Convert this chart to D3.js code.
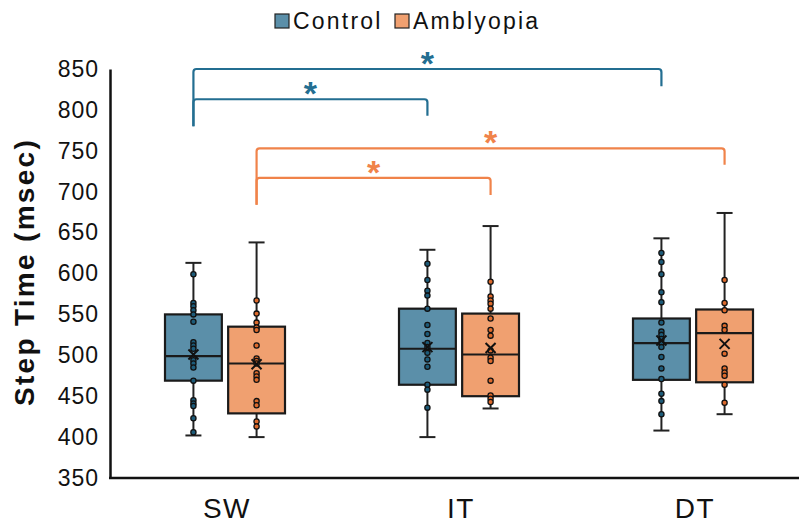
<!DOCTYPE html>
<html>
<head>
<meta charset="utf-8">
<script src="https://cdn.jsdelivr.net/npm/d3@7"></script>
<style>
  body { margin: 0; background: #fff; }
  svg { display: block; font-family: "Liberation Sans", Arial, sans-serif; }
</style>
</head>
<body>
<div id="chart"></div>
<script>
const categories = ["SW", "IT", "DT"];
const seriesNames = ["Control", "Amblyopia"];
const yTicks = [350, 400, 450, 500, 550, 600, 650, 700, 750, 800, 850];

// box stats: [min, q1, median, q3, max, mean]
const controlStats = [
  [402, 469, 499, 550, 613, 501],
  [400, 464, 508, 557, 629, 510],
  [408, 470, 515, 545, 643, 518]
];
const amblyopiaStats = [
  [400, 429, 490, 535, 638, 489],
  [435, 450, 501, 551, 658, 509],
  [428, 467, 527, 556, 674, 514]
];

// individual points
const controlPoints = [
  [599, 564, 560, 555, 550, 541, 516, 512, 508, 494, 490, 485, 469, 445, 441, 438, 423, 406],
  [612, 592, 579, 573, 557, 537, 526, 515, 510, 503, 495, 486, 464, 458, 436],
  [625, 614, 599, 577, 565, 540, 529, 525, 520, 515, 510, 498, 484, 471, 453, 444, 428]
];
const amblyopiaPoints = [
  [567, 551, 540, 534, 531, 512, 496, 493, 490, 478, 474, 470, 444, 439, 419, 413],
  [590, 572, 567, 563, 557, 545, 531, 524, 506, 497, 493, 469, 451, 447, 443],
  [592, 564, 555, 536, 531, 502, 484, 479, 475, 464, 442]
];

// significance brackets: series, from, to, top value, left end, right end
const brackets = [
  { series: "Control", from: "SW", to: "DT", top: 850, left: 780, right: 829 },
  { series: "Control", from: "SW", to: "IT", top: 813, left: 780, right: 793 },
  { series: "Amblyopia", from: "SW", to: "DT", top: 753, left: 684, right: 733 },
  { series: "Amblyopia", from: "SW", to: "IT", top: 717, left: 684, right: 696 }
];

const width = 799, height = 525;
const boxFill = { Control: "#5b8fa9", Amblyopia: "#f0a070" };
const pointFill = { Control: "#1d5b79", Amblyopia: "#dd6a2c" };
const lineColor = { Control: "#236e91", Amblyopia: "#f0834a" };

const svg = d3.select("#chart").append("svg")
  .attr("width", width)
  .attr("height", height);

const x = d3.scaleBand().domain(categories).range([108, 810]);
const sub = d3.scaleBand().domain(seriesNames).range([-60, 60]).paddingInner(0.1);
const y = d3.scaleLinear().domain([350, 850]).range([478, 69]);

const cx = (cat, s) => x(cat) + x.bandwidth() / 2 + sub(s) + sub.bandwidth() / 2;

// axes
const yAxis = svg.append("g")
  .attr("transform", "translate(110,0)")
  .call(d3.axisLeft(y).tickValues(yTicks).tickSize(0).tickPadding(11));
yAxis.select(".domain").attr("stroke", "#111").attr("stroke-width", 2.5);
yAxis.selectAll("text")
  .attr("font-size", 23)
  .attr("letter-spacing", 1)
  .attr("fill", "#111")
  .attr("font-family", "Liberation Sans, Arial, sans-serif");

svg.append("line")
  .attr("x1", 109).attr("x2", width)
  .attr("y1", y(350)).attr("y2", y(350))
  .attr("stroke", "#111").attr("stroke-width", 2.5);

svg.append("g").selectAll("text")
  .data(categories)
  .join("text")
  .attr("x", d => x(d) + x.bandwidth() / 2 + 2)
  .attr("y", 518)
  .attr("text-anchor", "middle")
  .attr("font-size", 28)
  .attr("letter-spacing", 1.5)
  .attr("fill", "#111")
  .text(d => d);

svg.append("text")
  .attr("transform", `translate(34,${272}) rotate(-90)`)
  .attr("text-anchor", "middle")
  .attr("font-size", 28)
  .attr("font-weight", "bold")
  .attr("letter-spacing", 2.3)
  .attr("fill", "#111")
  .text("Step Time (msec)");

// boxes
const groups = [];
categories.forEach((cat, i) => {
  groups.push({ cat, s: "Control", st: controlStats[i], pts: controlPoints[i] });
  groups.push({ cat, s: "Amblyopia", st: amblyopiaStats[i], pts: amblyopiaPoints[i] });
});

const bw = sub.bandwidth();
const g = svg.append("g").selectAll("g").data(groups).join("g");

g.append("line")
  .attr("x1", d => cx(d.cat, d.s)).attr("x2", d => cx(d.cat, d.s))
  .attr("y1", d => y(d.st[0])).attr("y2", d => y(d.st[4]))
  .attr("stroke", "#222").attr("stroke-width", 2);
g.selectAll(".cap").data(d => [d, d].map((e, k) => ({ ...e, v: e.st[k * 4] })))
  .join("line")
  .attr("x1", d => cx(d.cat, d.s) - 8).attr("x2", d => cx(d.cat, d.s) + 8)
  .attr("y1", d => y(d.v)).attr("y2", d => y(d.v))
  .attr("stroke", "#222").attr("stroke-width", 2);

g.append("rect")
  .attr("x", d => cx(d.cat, d.s) - bw / 2)
  .attr("width", bw)
  .attr("y", d => y(d.st[3]))
  .attr("height", d => y(d.st[1]) - y(d.st[3]))
  .attr("fill", d => boxFill[d.s])
  .attr("stroke", "#1a1a1a").attr("stroke-width", 2.2);

g.append("line")
  .attr("x1", d => cx(d.cat, d.s) - bw / 2).attr("x2", d => cx(d.cat, d.s) + bw / 2)
  .attr("y1", d => y(d.st[2])).attr("y2", d => y(d.st[2]))
  .attr("stroke", "#1a1a1a").attr("stroke-width", 2.2);

g.selectAll("circle").data(d => d.pts.map(v => ({ v, cat: d.cat, s: d.s })))
  .join("circle")
  .attr("cx", d => cx(d.cat, d.s))
  .attr("cy", d => y(d.v))
  .attr("r", 2.6)
  .attr("fill", d => pointFill[d.s])
  .attr("stroke", "#111").attr("stroke-width", 1.3);

// mean markers
g.append("path")
  .attr("transform", d => `translate(${cx(d.cat, d.s)},${y(d.st[5])})`)
  .attr("d", "M-5,-5L5,5M-5,5L5,-5")
  .attr("stroke", "#111").attr("stroke-width", 2).attr("fill", "none");

// significance brackets
const r = 3;
const bracketPath = d => {
  const x0 = cx(d.from, d.series), x1 = cx(d.to, d.series);
  const yt = y(d.top), yl = y(d.left), yr = y(d.right);
  return `M${x0},${yl}V${yt + r}Q${x0},${yt} ${x0 + r},${yt}H${x1 - r}Q${x1},${yt} ${x1},${yt + r}V${yr}`;
};
svg.append("g").selectAll("path").data(brackets).join("path")
  .attr("d", bracketPath)
  .attr("fill", "none")
  .attr("stroke", d => lineColor[d.series])
  .attr("stroke-width", 2.2);

svg.append("g").selectAll("text").data(brackets).join("text")
  .attr("x", d => (cx(d.from, d.series) + cx(d.to, d.series)) / 2)
  .attr("y", d => y(d.top) + 6)
  .attr("text-anchor", "middle")
  .attr("font-size", 34)
  .attr("font-weight", "bold")
  .attr("fill", d => lineColor[d.series])
  .text("*");

// legend
const legend = svg.append("g").selectAll("g").data(seriesNames).join("g")
  .attr("transform", (d, i) => `translate(${i ? 395 : 275},0)`);
legend.append("rect")
  .attr("x", 0).attr("y", 14).attr("width", 14).attr("height", 14)
  .attr("fill", d => boxFill[d]).attr("stroke", "#222").attr("stroke-width", 1.2);
legend.append("text")
  .attr("x", 18).attr("y", 29)
  .attr("font-size", 23)
  .attr("letter-spacing", 2.2)
  .attr("fill", "#111")
  .text(d => d);
</script>
</body>
</html>
